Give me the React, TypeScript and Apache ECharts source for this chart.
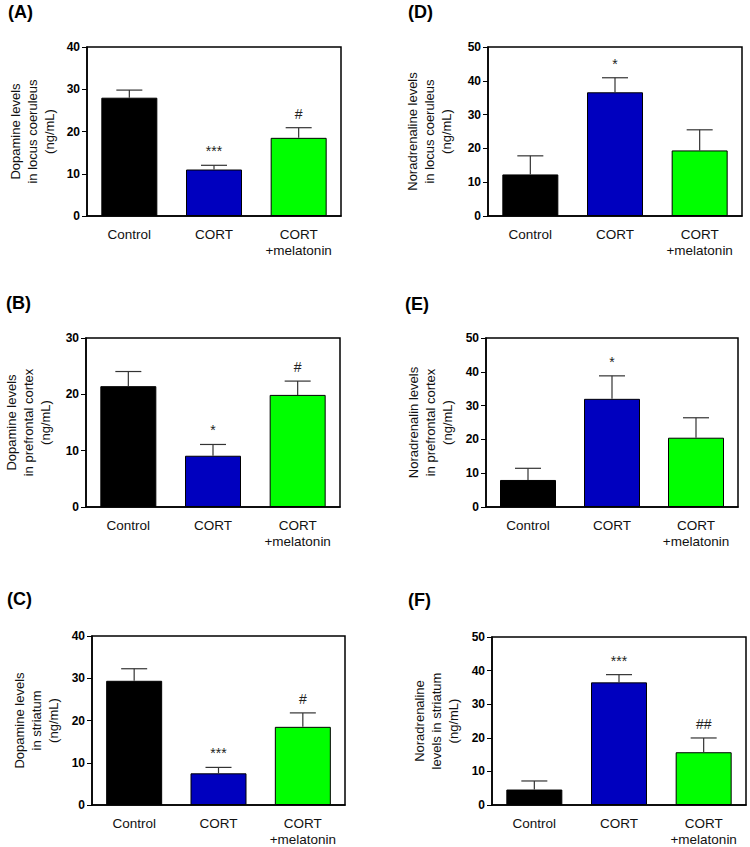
import * as echarts from "echarts";
import { useEffect, useRef } from "react";

const categories = ["Control", "CORT", "CORT\n+melatonin"];
const barColors = ["#000000", "#0000bf", "#00ff00"];

// panel letters, in the order the panels are built
const panelLetters = ["(A)", "(D)", "(B)", "(E)", "(C)", "(F)"];

const yNames = [
  "Dopamine levels\nin locus coeruleus\n(ng/mL)",
  "Noradrenaline levels\nin locus coeruleus\n(ng/mL)",
  "Dopamine levels\nin prefrontal cortex\n(ng/mL)",
  "Noradrenalin levels\nin prefrontal cortex\n(ng/mL)",
  "Dopamine levels\nin striatum\n(ng/mL)",
  "Noradrenaline\nlevels in striatum\n(ng/mL)",
];
const yMax = [40, 50, 30, 50, 40, 50];

// means and SEM
const daLocus = [28.0, 11.0, 18.5];
const daLocusSem = [1.8, 1.0, 2.4];
const naLocus = [12.3, 36.6, 19.4];
const naLocusSem = [5.5, 4.3, 6.1];
const daCortex = [21.45, 9.1, 19.9];
const daCortexSem = [2.6, 2.0, 2.45];
const naCortex = [8.0, 32.0, 20.5];
const naCortexSem = [3.45, 6.8, 5.9];
const daStriatum = [29.4, 7.5, 18.5];
const daStriatumSem = [2.85, 1.4, 3.3];
const naStriatum = [4.6, 36.5, 15.7];
const naStriatumSem = [2.55, 2.3, 4.25];

const marksA = ["", "***", "#"];
const marksD = ["", "*", ""];
const marksB = ["", "*", "#"];
const marksE = ["", "*", ""];
const marksC = ["", "***", "#"];
const marksF = ["", "***", "##"];

const means = [daLocus, naLocus, daCortex, naCortex, daStriatum, naStriatum];
const sems = [daLocusSem, naLocusSem, daCortexSem, naCortexSem, daStriatumSem, naStriatumSem];
const marks = [marksA, marksD, marksB, marksE, marksC, marksF];

// plot areas (px)
const grids = [
  { left: 87, top: 47, width: 254, height: 169 },
  { left: 488, top: 47, width: 254, height: 169 },
  { left: 86, top: 338, width: 254, height: 169 },
  { left: 486, top: 338, width: 252, height: 169 },
  { left: 92, top: 636, width: 253, height: 169 },
  { left: 492, top: 637, width: 254, height: 168 },
];
const nameGaps = [29, 33, 32, 30, 30, 30];
const letterPos = [
  [8, 3],
  [408, 3],
  [6, 294],
  [405, 295],
  [7, 590],
  [408, 591],
];

const FONT = "Arial, 'Liberation Sans', sans-serif";

const App = () => {
  const chartRef = useRef<HTMLDivElement>(null);

  useEffect(() => {
    const chart = echarts.init(chartRef.current as HTMLDivElement, undefined, {
      renderer: "svg",
    });

    const option: any = {
      animation: false,
      backgroundColor: "#fff",
      textStyle: { fontFamily: FONT },
      grid: grids.map((g) => ({
        ...g,
        show: true,
        borderColor: "#000",
        borderWidth: 1.5,
        containLabel: false,
      })),
      xAxis: grids.map((_, i) => ({
        type: "category",
        gridIndex: i,
        data: categories,
        axisLine: { lineStyle: { color: "#000", width: 1.5 } },
        axisTick: { alignWithLabel: true, length: 7, lineStyle: { color: "#000", width: 1 } },
        axisLabel: {
          interval: 0,
          color: "#111",
          fontSize: 13.5,
          lineHeight: 16,
          margin: 10,
          fontFamily: FONT,
        },
        splitLine: { show: false },
      })),
      yAxis: grids.map((_, i) => ({
        type: "value",
        gridIndex: i,
        min: 0,
        max: yMax[i],
        interval: 10,
        name: yNames[i],
        nameLocation: "middle",
        nameGap: nameGaps[i],
        nameTextStyle: {
          fontSize: 13,
          lineHeight: 17,
          color: "#111",
          fontFamily: FONT,
        },
        axisLine: { show: true, lineStyle: { color: "#000", width: 1.5 } },
        axisTick: { show: true, length: 5, lineStyle: { color: "#000", width: 1 } },
        axisLabel: {
          color: "#000",
          fontWeight: "bold",
          fontSize: 12,
          margin: 7,
          fontFamily: FONT,
        },
        splitLine: { show: false },
      })),
      series: [
        ...means.map((vals, i) => ({
          type: "bar",
          xAxisIndex: i,
          yAxisIndex: i,
          barWidth: 56,
          data: vals.map((v, j) => ({
            value: v,
            itemStyle: { color: barColors[j], borderColor: "#000", borderWidth: 1 },
          })),
          z: 2,
        })),
        ...means.map((vals, i) => ({
          type: "custom",
          xAxisIndex: i,
          yAxisIndex: i,
          z: 3,
          clip: false,
          data: vals.map((v, j) => [j, v, sems[i][j]]),
          encode: { x: 0, y: 1 },
          renderItem: (params: any, api: any) => {
            const x = api.value(0);
            const m = api.value(1);
            const s = api.value(2);
            const base = api.coord([x, m]);
            const top = api.coord([x, m + s]);
            const half = 13;
            const style = { stroke: "#333", lineWidth: 1.2 };
            const children: any[] = [
              {
                type: "line",
                shape: { x1: base[0], y1: base[1], x2: top[0], y2: top[1] },
                style,
              },
              {
                type: "line",
                shape: { x1: top[0] - half, y1: top[1], x2: top[0] + half, y2: top[1] },
                style,
              },
            ];
            const mark = marks[i][params.dataIndex];
            if (mark) {
              children.push({
                type: "text",
                x: top[0],
                y: top[1] - 14,
                style: {
                  text: mark,
                  fill: "#222",
                  font: `14px ${FONT}`,
                  align: "center",
                  verticalAlign: "middle",
                },
              });
            }
            return { type: "group", children };
          },
        })),
      ],
      graphic: panelLetters.map((t, i) => ({
        type: "text",
        left: letterPos[i][0],
        top: letterPos[i][1],
        style: {
          text: t,
          fill: "#000",
          font: `bold 18px ${FONT}`,
        },
      })),
    };

    chart.setOption(option);
    return () => {
      chart.dispose();
    };
  }, []);

  return (
    <div
      ref={chartRef}
      style={{ position: "absolute", left: 0, top: 0, width: "750px", height: "847px" }}
    />
  );
};

export default App;
